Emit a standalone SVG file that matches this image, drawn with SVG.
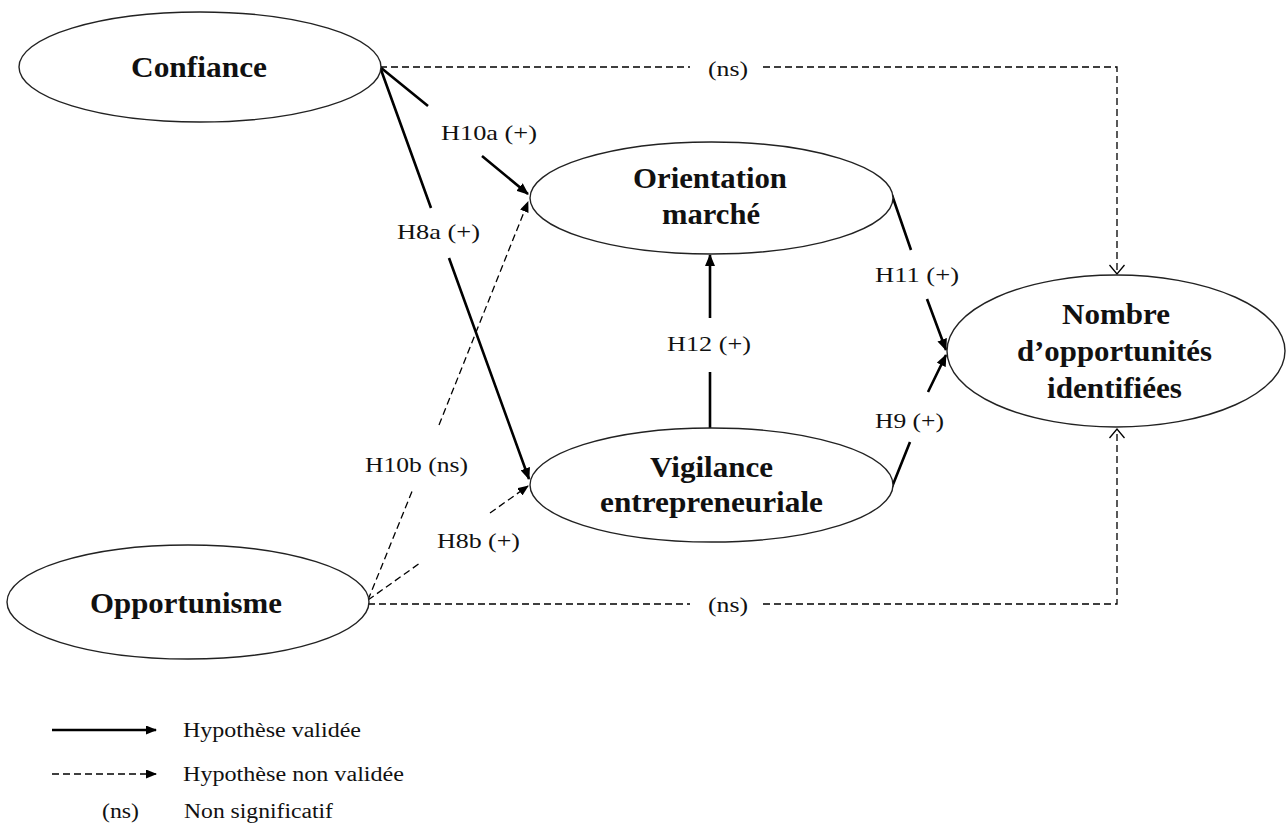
<svg xmlns="http://www.w3.org/2000/svg" width="1286" height="825" viewBox="0 0 1286 825">
<style>
.node ellipse{fill:#fff;stroke:#222;stroke-width:1.4}
.nt{font-family:"Liberation Serif",serif;font-weight:bold;font-size:29px;fill:#111}
.lbl{font-family:"Liberation Serif",serif;font-size:21px;fill:#111}
.leg{font-family:"Liberation Serif",serif;font-size:20px;fill:#111}
.solid{fill:none;stroke:#000;stroke-width:2.6}
.dash{fill:none;stroke:#000;stroke-width:1.3;stroke-dasharray:7 4}
</style>
<defs>
<marker id="arr" markerWidth="12" markerHeight="10" refX="11" refY="5" orient="auto" markerUnits="userSpaceOnUse"><path d="M0,0 L12,5 L0,10 z" fill="#000"/></marker>
<marker id="arrs" markerWidth="11" markerHeight="9" refX="10" refY="4.5" orient="auto" markerUnits="userSpaceOnUse"><path d="M0,0 L11,4.5 L0,9 z" fill="#000"/></marker>
<marker id="open" markerWidth="12" markerHeight="16" refX="11" refY="8" orient="auto" markerUnits="userSpaceOnUse"><path d="M2,0.5 L11,8 L2,15.5" fill="none" stroke="#000" stroke-width="1.3"/></marker>
</defs>
<rect width="1286" height="825" fill="#fff"/>

<g id="connectors">
<path id="c-conf-nombre" class="dash" d="M380,67 L690,67 M763,67 L1117,67 L1117,274" marker-end="url(#open)"/>
<path id="c-opp-nombre" class="dash" d="M368,604 L690,604 M763,604 L1117,604 L1117,429" marker-end="url(#open)"/>
<path id="c-h10a" class="solid" d="M380,67 L428,106 M482,156 L528,194" marker-end="url(#arr)"/>
<path id="c-h8a" class="solid" d="M380,67 L431,208 M449,258 L529,479" marker-end="url(#arr)"/>
<path id="c-h10b" class="dash" d="M368,600 L413,489 M439,425 L528,202" marker-end="url(#arrs)"/>
<path id="c-h8b" class="dash" d="M368,600 L420,563 M490,513 L528,486" marker-end="url(#arrs)"/>
<path id="c-h11" class="solid" d="M892,195 L911,250 M927,299 L946,350" marker-end="url(#arr)"/>
<path id="c-h9" class="solid" d="M892,487 L910,442 M928,392 L946,355" marker-end="url(#arr)"/>
<path id="c-h12" class="solid" d="M710,428 L710,372 M710,318 L710,255" marker-end="url(#arr)"/>
</g>

<g id="node-confiance" class="node">
<ellipse cx="200" cy="67" rx="181" ry="55"/>
<text class="nt" x="131" y="77" textLength="136" lengthAdjust="spacingAndGlyphs">Confiance</text>
</g>
<g id="node-opportunisme" class="node">
<ellipse cx="188" cy="602" rx="181" ry="57"/>
<text class="nt" x="90" y="613" textLength="192" lengthAdjust="spacingAndGlyphs">Opportunisme</text>
</g>
<g id="node-orientation" class="node">
<ellipse cx="711.5" cy="198" rx="181.5" ry="56"/>
<text class="nt" x="633" y="188" textLength="154" lengthAdjust="spacingAndGlyphs">Orientation</text>
<text class="nt" x="662" y="224" textLength="98" lengthAdjust="spacingAndGlyphs">marché</text>
</g>
<g id="node-vigilance" class="node">
<ellipse cx="711.5" cy="485" rx="181.5" ry="57"/>
<text class="nt" x="650" y="477" textLength="123" lengthAdjust="spacingAndGlyphs">Vigilance</text>
<text class="nt" x="600" y="512" textLength="223" lengthAdjust="spacingAndGlyphs">entrepreneuriale</text>
</g>
<g id="node-nombre" class="node">
<ellipse cx="1116" cy="351" rx="169" ry="76"/>
<text class="nt" x="1062" y="324" textLength="108" lengthAdjust="spacingAndGlyphs">Nombre</text>
<text class="nt" x="1017" y="361" textLength="195" lengthAdjust="spacingAndGlyphs">d’opportunités</text>
<text class="nt" x="1047" y="398" textLength="135" lengthAdjust="spacingAndGlyphs">identifiées</text>
</g>

<g id="edge-labels">
<text class="lbl" x="441" y="140" textLength="96" lengthAdjust="spacingAndGlyphs">H10a (+)</text>
<text class="lbl" x="397" y="239" textLength="83" lengthAdjust="spacingAndGlyphs">H8a (+)</text>
<text class="lbl" x="365" y="472" textLength="103" lengthAdjust="spacingAndGlyphs">H10b (ns)</text>
<text class="lbl" x="437" y="548" textLength="83" lengthAdjust="spacingAndGlyphs">H8b (+)</text>
<text class="lbl" x="875" y="282" textLength="84" lengthAdjust="spacingAndGlyphs">H11 (+)</text>
<text class="lbl" x="875" y="428" textLength="69" lengthAdjust="spacingAndGlyphs">H9 (+)</text>
<text class="lbl" x="667" y="351" textLength="84" lengthAdjust="spacingAndGlyphs">H12 (+)</text>
<text class="lbl" x="708" y="76" textLength="40" lengthAdjust="spacingAndGlyphs">(ns)</text>
<text class="lbl" x="708" y="612" textLength="40" lengthAdjust="spacingAndGlyphs">(ns)</text>
</g>

<g id="legend">
<path class="solid" d="M52,730 L156,730" marker-end="url(#arrs)"/>
<text class="leg" x="183" y="737" textLength="178" lengthAdjust="spacingAndGlyphs">Hypothèse validée</text>
<path class="dash" d="M52,774 L156,774" marker-end="url(#arrs)"/>
<text class="leg" x="183" y="781" textLength="221" lengthAdjust="spacingAndGlyphs">Hypothèse non validée</text>
<text class="leg" x="102" y="818" textLength="37" lengthAdjust="spacingAndGlyphs">(ns)</text>
<text class="leg" x="184" y="818" textLength="149" lengthAdjust="spacingAndGlyphs">Non significatif</text>
</g>
</svg>
